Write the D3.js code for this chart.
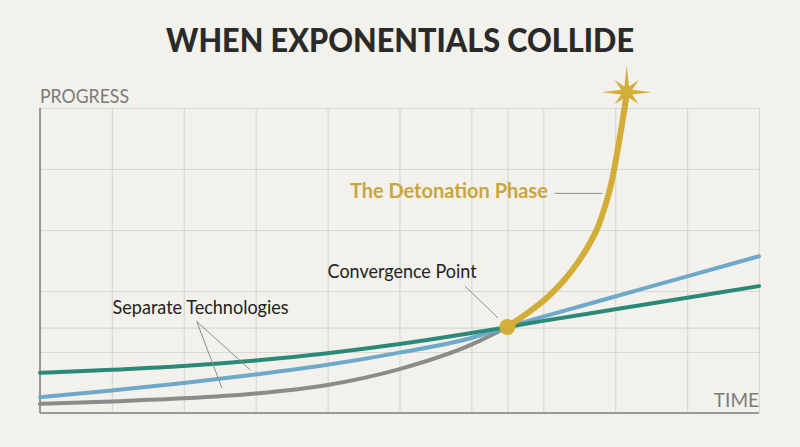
<!DOCTYPE html>
<meta charset="utf-8">
<style>
  body { margin: 0; background: #f2f1ec; }
  svg { display: block; }
  .grid line { stroke: #d9d8d3; stroke-width: 1.2; }
  .grid path { display: none; }
  .series { fill: none; stroke-linecap: round; }
  .leader { stroke: #8e8e8e; stroke-width: 1; fill: none; }
  .note { font-family: Lato, "Noto Sans", sans-serif; fill: #222; }
</style>
<body></body>
<script src="https://d3js.org/d3.v7.min.js"></script>
<script>

// data
var timeTicks = [0, 1, 2, 3, 4, 5, 6, 6.5, 7, 8, 9, 10];
var progTicks = [0, 1, 1.4, 2, 3, 4, 5];

var techA = [ // teal
  [0, 0.66], [1, 0.71], [2, 0.77], [3, 0.86], [4, 0.98], [5, 1.13], [6, 1.31],
  [6.5, 1.41], [7, 1.51], [8, 1.70], [9, 1.89], [10, 2.08]
];
var techB = [ // blue
  [0, 0.26], [1, 0.37], [2, 0.49], [3, 0.63], [4, 0.79], [5, 0.99], [6, 1.23],
  [6.5, 1.41], [7, 1.58], [8, 1.91], [9, 2.24], [10, 2.57]
];
var techC = [ // grey
  [0, 0.15], [1, 0.19], [2, 0.24], [3, 0.32], [4, 0.46], [5, 0.72], [6, 1.12],
  [6.5, 1.41]
];
var detonation = [
  [6.5, 1.41], [6.79, 1.64], [7.07, 1.9], [7.3, 2.18], [7.48, 2.46], [7.62, 2.72],
  [7.75, 3.0], [7.83, 3.28], [7.9, 3.54], [7.96, 3.82], [8.01, 4.15], [8.09, 4.69],
  [8.14, 5.08], [8.16, 5.26]
];
var convergence = [6.5, 1.41];

var W = 800, H = 447;
var margin = {top: 108, right: 41, bottom: 34, left: 40};
var w = W - margin.left - margin.right,
    h = H - margin.top - margin.bottom;

var svg = d3.select("body").append("svg")
    .attr("width", W)
    .attr("height", H);

svg.append("rect").attr("width", W).attr("height", H).attr("fill", "#f2f1ec");

var chart = svg.append("g")
    .attr("transform", "translate(" + margin.left + "," + margin.top + ")");

var x = d3.scaleLinear().domain([0, 10]).range([0, w]);
var y = d3.scaleLinear().domain([0, 5]).range([h, 0]);

// grid
chart.append("g")
    .attr("class", "grid")
    .attr("transform", "translate(0," + h + ")")
    .call(d3.axisBottom(x).tickValues(timeTicks).tickSize(-h).tickFormat(""));

chart.append("g")
    .attr("class", "grid")
    .call(d3.axisLeft(y).tickValues(progTicks).tickSize(-w).tickFormat(""));

// axes lines
chart.append("line")
    .attr("x1", 0).attr("x2", 0).attr("y1", 0).attr("y2", h)
    .attr("stroke", "#8f8f8f").attr("stroke-width", 1.8);
chart.append("line")
    .attr("x1", 0).attr("x2", w).attr("y1", h).attr("y2", h)
    .attr("stroke", "#9a9a9a").attr("stroke-width", 1.8);

var line = d3.line()
    .x(function(d) { return x(d[0]); })
    .y(function(d) { return y(d[1]); })
    .curve(d3.curveMonotoneX);

chart.append("path").datum(techC).attr("class", "series")
    .attr("d", line).attr("stroke", "#8b8b8b").attr("stroke-width", 4);
chart.append("path").datum(techB).attr("class", "series")
    .attr("d", line).attr("stroke", "#6ea9c9").attr("stroke-width", 4);
chart.append("path").datum(techA).attr("class", "series")
    .attr("d", line).attr("stroke", "#2b8a77").attr("stroke-width", 4);

var goldLine = d3.line()
    .x(function(d) { return x(d[0]); })
    .y(function(d) { return y(d[1]); })
    .curve(d3.curveBasis);

chart.append("path").datum(detonation).attr("class", "series")
    .attr("d", goldLine).attr("stroke", "#d2ad37").attr("stroke-width", 6);

chart.append("circle")
    .attr("cx", x(convergence[0])).attr("cy", y(convergence[1]))
    .attr("r", 8).attr("fill", "#d4ae3b");

// star at the tip
var tip = detonation[detonation.length - 1];
var rays = [27, 17, 25, 17, 22, 17, 25, 17];
var star = [];
rays.forEach(function(r, i) {
  var a = i * Math.PI / 4 - Math.PI / 2;
  star.push([Math.cos(a) * r, Math.sin(a) * r]);
  var b = a + Math.PI / 8;
  star.push([Math.cos(b) * 6, Math.sin(b) * 6]);
});
chart.append("path")
    .attr("transform", "translate(" + x(tip[0]) + "," + y(tip[1]) + ")")
    .attr("d", "M" + star.join("L") + "Z")
    .attr("fill", "#d4ae3b");

// annotations
chart.append("path").attr("class", "leader")
    .attr("d", "M" + (x(2.18)) + "," + y(1.5) + "L" + x(2.93) + "," + y(0.7)
       + "M" + x(2.18) + "," + y(1.5) + "L" + x(2.53) + "," + y(0.41));
chart.append("path").attr("class", "leader")
    .attr("d", "M" + x(5.91) + "," + y(2.08) + "L" + x(6.37) + "," + y(1.56));
chart.append("path").attr("class", "leader")
    .attr("d", "M" + x(7.16) + "," + y(3.6) + "L" + x(7.82) + "," + y(3.6));

chart.append("text").attr("class", "note")
    .attr("x", x(1.01)).attr("y", y(1.62))
    .attr("font-size", 19)
    .attr("textLength", 176).attr("lengthAdjust", "spacingAndGlyphs")
    .text("Separate Technologies");

chart.append("text").attr("class", "note")
    .attr("x", x(4.0)).attr("y", y(2.22))
    .attr("font-size", 19)
    .attr("textLength", 149).attr("lengthAdjust", "spacingAndGlyphs")
    .text("Convergence Point");

chart.append("text").attr("class", "note")
    .attr("x", x(4.31)).attr("y", y(3.52))
    .attr("font-size", 20).attr("font-weight", 700)
    .style("fill", "#c9a63c")
    .attr("textLength", 198).attr("lengthAdjust", "spacingAndGlyphs")
    .text("The Detonation Phase");

// axis titles
svg.append("text")
    .attr("x", margin.left).attr("y", 103)
    .attr("font-family", "Lato, 'Noto Sans', sans-serif")
    .attr("font-size", 20).attr("fill", "#7b7b7b")
    .attr("textLength", 89).attr("lengthAdjust", "spacingAndGlyphs")
    .text("PROGRESS");

svg.append("text")
    .attr("x", margin.left + w).attr("y", 407)
    .attr("text-anchor", "end")
    .attr("font-family", "Lato, 'Noto Sans', sans-serif")
    .attr("font-size", 19).attr("fill", "#7b7b7b")
    .text("TIME");

// title
svg.append("text")
    .attr("x", 166).attr("y", 52)
    .attr("font-family", "Lato, 'Open Sans', sans-serif")
    .attr("font-size", 33).attr("font-weight", 900).attr("fill", "#2a2a2a")
    .attr("textLength", 468).attr("lengthAdjust", "spacingAndGlyphs")
    .text("WHEN EXPONENTIALS COLLIDE");

</script>
